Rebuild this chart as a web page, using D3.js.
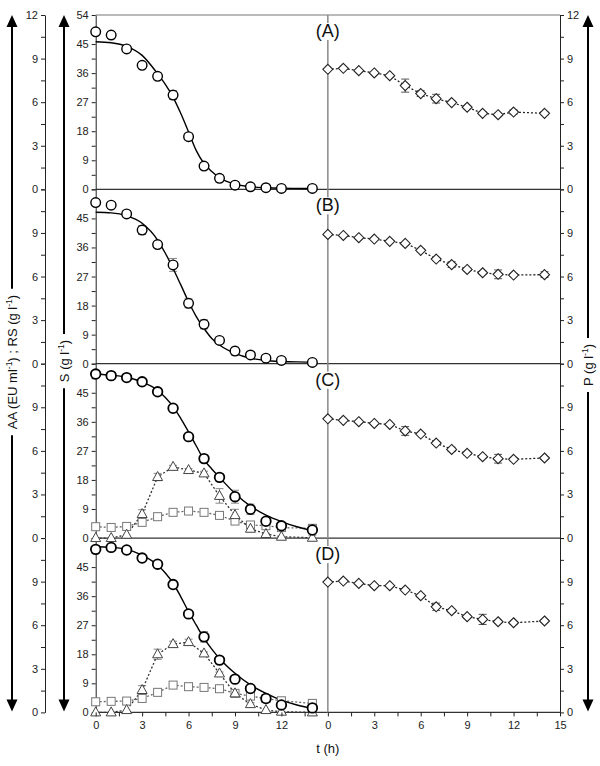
<!DOCTYPE html>
<html><head><meta charset="utf-8">
<script src="https://cdn.jsdelivr.net/npm/d3@7"></script>
<style>body{margin:0;background:#fff}svg{display:block}text{font-family:Arial,"Liberation Sans",sans-serif}</style>
</head><body>
<svg id="c" width="600" height="766"></svg>
<script>
// ---------- data ----------
const panelNames = ["(A)", "(B)", "(C)", "(D)"];
const times = [0,1,2,3,4,5,6,7,8,9,10,11,12,14];
const fitTimes = [0,1,2,3,4,4.5,5,5.5,6,6.5,7,7.5,8,9,10,11,12,13,14];

// S (g/l) measured, circles
const sA = [48.8,47.8,43.5,38.4,35.0,29.2,16.3,7.2,3.4,1.3,0.8,0.5,0.3,0.3];
const sB = [49.9,49.1,46.4,41.4,36.9,30.6,18.7,12.2,7.2,3.9,2.7,1.7,1.0,0.4];
const sC = [50.8,50.3,49.7,48.4,45.3,40.2,31.4,24.6,18.8,12.8,8.9,5.2,3.8,2.5];
const sD = [50.5,51.1,50.3,47.8,45.9,39.6,30.5,23.4,16.2,10.3,7.4,4.3,2.3,1.4];
const sErrA = [0,0,0.6,0.6,1.0,1.4,1.0,0.8,1.0,0.6,0.4,0.6,0.8,0.4];
const sErrB = [0,0,1.0,1.4,0.8,2.0,1.4,1.4,0.6,1.2,0.6,0.6,0.6,0.4];
const sErrC = [0,0,0,0,0.6,0.8,0.8,0.6,1.0,2.0,1.6,0.8,0.6,1.6];
const sErrD = [0,0,0,0.6,1.0,0.6,0.6,1.6,1.0,1.0,0.8,0.8,0.8,1.0];

// S fitted model curves
const fitA = [45.7,45.4,44.3,41.5,35.8,32.5,28.5,23.5,17.8,12.0,8.0,5.5,3.6,1.6,0.8,0.5,0.35,0.3,0.25];
const fitB = [46.9,46.7,45.8,43.5,38.3,34.2,29.5,24.4,19.2,14.6,10.9,7.8,5.8,3.2,1.7,1.0,0.7,0.55,0.5];
const fitC = [50.8,50.4,49.8,48.3,45.8,43.5,40.7,37.0,32.9,28.5,24.2,21.4,18.8,13.8,9.9,7.1,5.1,3.5,2.3];
const fitD = [51.3,51.1,50.5,48.7,45.6,43.2,40.0,35.8,31.2,27.0,22.9,19.6,16.7,12.1,8.5,5.9,3.8,2.3,1.2];

// AA (EU/ml), triangles (panels C, D)
const aaC = [0,0,0.23,1.65,4.2,4.9,4.68,4.45,2.9,1.58,0.64,0.28,0.09,0.02];
const aaD = [0,0,0.16,1.54,4.0,4.7,4.84,4.06,2.68,1.31,0.57,0.16,0.05,0];
const aaErrC = [0,0,0,0.3,0.25,0.1,0.1,0.15,0.5,0.4,0.1,0.05,0,0];
const aaErrD = [0,0,0,0.3,0.35,0.2,0.2,0.1,0.1,0.1,0.1,0,0,0];

// RS (g/l), squares (panels C, D)
const rsC = [0.78,0.73,0.80,1.08,1.47,1.77,1.86,1.77,1.56,1.17,0.90,0.85,0.72,0.67];
const rsD = [0.73,0.76,0.78,0.96,1.38,1.88,1.77,1.72,1.63,1.31,1.12,0.95,0.80,0.62];
const rsErrC = [0,0,0,0,0,0,0,0,0,0,0,0,0,0.2];
const rsErrD = [0,0,0,0,0,0,0,0,0,0,0,0,0,0.25];

// P (g/l), diamonds
const pA = [8.26,8.33,8.17,8.01,7.82,7.14,6.59,6.24,5.97,5.65,5.23,5.14,5.32,5.23];
const pB = [8.90,8.83,8.67,8.58,8.42,8.28,7.80,7.20,6.82,6.49,6.26,6.15,6.10,6.13];
const pC = [8.21,8.10,8.01,7.89,7.82,7.37,7.16,6.54,6.10,5.83,5.60,5.46,5.42,5.51];
const pD = [8.97,9.04,8.88,8.72,8.72,8.42,8.03,7.27,7.00,6.59,6.40,6.24,6.17,6.29];
const pErrA = [0,0,0,0,0.1,0.45,0.2,0.3,0.1,0.1,0.1,0.1,0.15,0.1];
const pErrB = [0,0,0,0,0,0,0.1,0.1,0.2,0.1,0.1,0.3,0.1,0.2];
const pErrC = [0,0,0,0,0,0.3,0.05,0.1,0.15,0.1,0.1,0.3,0.1,0.1];
const pErrD = [0,0,0,0,0,0,0.1,0.25,0.1,0.1,0.35,0.1,0.1,0.1];

const xTickLabelsLeft = [0,3,6,9,12];
const xTickLabelsRight = [0,3,6,9,12,15];

const panels = [
  {name: panelNames[0], s: sA, sErr: sErrA, fit: fitA, p: pA, pErr: pErrA},
  {name: panelNames[1], s: sB, sErr: sErrB, fit: fitB, p: pB, pErr: pErrB},
  {name: panelNames[2], s: sC, sErr: sErrC, fit: fitC, p: pC, pErr: pErrC, aa: aaC, aaErr: aaErrC, rs: rsC, rsErr: rsErrC},
  {name: panelNames[3], s: sD, sErr: sErrD, fit: fitD, p: pD, pErr: pErrD, aa: aaD, aaErr: aaErrD, rs: rsD, rsErr: rsErrD}
];

// ---------- layout ----------
const svg = d3.select("#c");
const X0 = 95.7, X1 = 560, TOP = 15, PH = 174.35;
const x = d3.scaleLinear().domain([0, 30]).range([X0, X1]);
const xDiv = x(15);
const BOTTOM = TOP + 4 * PH;

const gridG = svg.append("g");
const dataG = svg.append("g");
const labelG = svg.append("g");

// top border
gridG.append("line").attr("x1", X0).attr("x2", X1).attr("y1", TOP).attr("y2", TOP)
  .attr("stroke", "#777").attr("stroke-width", 1.2);

const fmt = d3.format("d");

panels.forEach((pn, i) => {
  const top = TOP + i * PH, bot = top + PH;
  const yS = d3.scaleLinear().domain([0, 54]).range([bot, top]);
  const yP = d3.scaleLinear().domain([0, 12]).range([bot, top]);

  // zero line
  gridG.append("line").attr("x1", X0).attr("x2", X1).attr("y1", bot).attr("y2", bot)
    .attr("stroke", "#333").attr("stroke-width", 1.2);

  // outer-left AA/RS axis
  const aOuter = gridG.append("g").attr("transform", `translate(45,0)`)
    .call(d3.axisLeft(yP).tickValues(d3.range(0, 12.01, 1.5)).tickSize(4).tickSizeOuter(0).tickPadding(3)
      .tickFormat(d => (d % 3 !== 0 || (i > 0 && d === 12)) ? "" : fmt(d)));
  // inner-left S axis
  const aInner = gridG.append("g").attr("transform", `translate(${X0},0)`)
    .call(d3.axisLeft(yS).tickValues(d3.range(0, 54.01, 4.5)).tickSize(4).tickSizeOuter(0).tickPadding(3)
      .tickFormat(d => (d % 9 !== 0 || (i > 0 && d === 54)) ? "" : fmt(d)));
  // right P axis
  const aRight = gridG.append("g").attr("transform", `translate(${X1},0)`)
    .call(d3.axisRight(yP).tickValues(d3.range(0, 12.01, 1.5)).tickSize(4).tickSizeOuter(0).tickPadding(3)
      .tickFormat(d => (d % 3 !== 0 || (i > 0 && d === 12)) ? "" : fmt(d)));
  [aOuter, aInner, aRight].forEach(a => {
    a.selectAll("text").attr("font-size", 11).attr("fill", "#222")
      .style("font-family", "Arial, 'Liberation Sans', sans-serif");
    a.selectAll("line,path").attr("stroke", "#222");
  });

  const ebar = (xs, vals, errs, yScale, color) => {
    vals.forEach((v, k) => {
      const e = errs[k];
      if (!e) return;
      const cx = x(xs[k]);
      const y1 = yScale(v - e), y2 = yScale(v + e);
      dataG.append("line").attr("x1", cx).attr("x2", cx).attr("y1", y1).attr("y2", y2)
        .attr("stroke", color).attr("stroke-width", 1);
      [y1, y2].forEach(yy => dataG.append("line").attr("x1", cx - 4).attr("x2", cx + 4)
        .attr("y1", yy).attr("y2", yy).attr("stroke", color).attr("stroke-width", 1));
    });
  };

  const tLeft = times;
  const tRight = times.map(t => t + 15);

  ebar(tLeft, pn.s, pn.sErr, yS, "#888");
  ebar(tRight, pn.p, pn.pErr, yP, "#555");
  if (pn.aa) {
    ebar(tLeft, pn.aa, pn.aaErr, yP, "#888");
    ebar(tLeft, pn.rs, pn.rsErr, yP, "#999");
  }

  const dotted = (xs, vals, yScale, color) => {
    dataG.append("path")
      .attr("d", d3.line().x((d, k) => x(xs[k])).y(d => yScale(d))(vals))
      .attr("fill", "none").attr("stroke", color).attr("stroke-width", 1.3)
      .attr("stroke-dasharray", "2,2");
  };
  dotted(tRight, pn.p, yP, "#222");
  if (pn.aa) {
    dotted(tLeft, pn.rs, yP, "#666");
    dotted(tLeft, pn.aa, yP, "#333");
  }

  // fitted S curve
  dataG.append("path")
    .attr("d", d3.line().curve(d3.curveMonotoneX).x((d, k) => x(fitTimes[k])).y(d => yS(d))(pn.fit))
    .attr("fill", "none").attr("stroke", "#000").attr("stroke-width", 1.4);

  if (pn.aa) {
    pn.rs.forEach((v, k) => dataG.append("rect")
      .attr("x", x(tLeft[k]) - 4).attr("y", yP(v) - 4).attr("width", 8).attr("height", 8)
      .attr("fill", "#fff").attr("stroke", "#777").attr("stroke-width", 1));
    pn.aa.forEach((v, k) => dataG.append("path")
      .attr("transform", `translate(${x(tLeft[k])},${yP(v)})`)
      .attr("d", "M0,-5.5L5,3.5L-5,3.5Z")
      .attr("fill", "#fff").attr("stroke", "#444").attr("stroke-width", 1));
  }
  pn.s.forEach((v, k) => dataG.append("circle")
    .attr("cx", x(tLeft[k])).attr("cy", yS(v)).attr("r", 4.8)
    .attr("fill", "#fff").attr("stroke", "#000").attr("stroke-width", i >= 2 ? 1.8 : 1.4));
  pn.p.forEach((v, k) => dataG.append("path")
    .attr("transform", `translate(${x(tRight[k])},${yP(v)})`)
    .attr("d", "M0,-5L5,0L0,5L-5,0Z")
    .attr("fill", "#fff").attr("stroke", "#222").attr("stroke-width", 1.1));
});

// divider
gridG.append("line").attr("x1", xDiv).attr("x2", xDiv).attr("y1", TOP).attr("y2", BOTTOM)
  .attr("stroke", "#888").attr("stroke-width", 1.5);

// panel labels
panels.forEach((pn, i) => {
  const top = TOP + i * PH;
  const g = labelG.append("g");
  const r = g.append("rect").attr("fill", "#fff");
  const t = g.append("text").attr("x", xDiv).attr("y", top + 22)
    .attr("text-anchor", "middle").attr("font-size", 18).attr("fill", "#111").text(pn.name);
  const bb = t.node().getBBox();
  r.attr("x", bb.x).attr("y", bb.y + 2).attr("width", bb.width).attr("height", bb.height - 3);
});

// bottom x axis
const xa = svg.append("g").attr("transform", `translate(0,${BOTTOM})`)
  .call(d3.axisBottom(x).tickValues(d3.range(0, 30.01, 1.5)).tickSize(4).tickSizeOuter(0).tickPadding(5)
    .tickFormat(d => d % 3 !== 0 ? "" : (d < 15 ? fmt(xTickLabelsLeft[d / 3]) : fmt(xTickLabelsRight[(d - 15) / 3]))));
xa.selectAll("text").attr("font-size", 11).attr("fill", "#222").style("font-family", "Arial, 'Liberation Sans', sans-serif");
xa.selectAll("line").attr("stroke", "#222");
xa.select(".domain").remove();

svg.append("text").attr("x", xDiv).attr("y", 753).attr("text-anchor", "middle")
  .attr("font-size", 13).attr("fill", "#111").text("t (h)");

// arrow axes with labels
function arrowAxis(ax, parts, cy) {
  const g = svg.append("g");
  const txt = g.append("text").attr("transform", `translate(${ax + 4.5},${cy}) rotate(-90)`)
    .attr("text-anchor", "middle").attr("font-size", 13).attr("fill", "#111");
  parts.forEach(p => {
    const ts = txt.append("tspan").text(p.t);
    if (p.sup) ts.attr("baseline-shift", "super").attr("font-size", 8.5);
  });
  const len = txt.node().getComputedTextLength();
  const half = len / 2 + 6;
  const yT = TOP, yB = BOTTOM - 1;
  g.append("line").attr("x1", ax).attr("x2", ax).attr("y1", yT + 8).attr("y2", cy - half)
    .attr("stroke", "#000").attr("stroke-width", 2);
  g.append("line").attr("x1", ax).attr("x2", ax).attr("y1", cy + half).attr("y2", yB - 8)
    .attr("stroke", "#000").attr("stroke-width", 2);
  g.append("path").attr("d", `M${ax},${yT}L${ax + 5.5},${yT + 12}L${ax - 5.5},${yT + 12}Z`).attr("fill", "#000");
  g.append("path").attr("d", `M${ax},${yB}L${ax + 5.5},${yB - 12}L${ax - 5.5},${yB - 12}Z`).attr("fill", "#000");
}
arrowAxis(12, [{t: "AA (EU ml"}, {t: "-1", sup: true}, {t: ") ; RS (g l"}, {t: "-1", sup: true}, {t: ")"}], 362);
arrowAxis(64, [{t: "S (g l"}, {t: "-1", sup: true}, {t: ")"}], 361);
arrowAxis(588, [{t: "P (g l"}, {t: "-1", sup: true}, {t: ")"}], 365);
</script>
</body></html>
